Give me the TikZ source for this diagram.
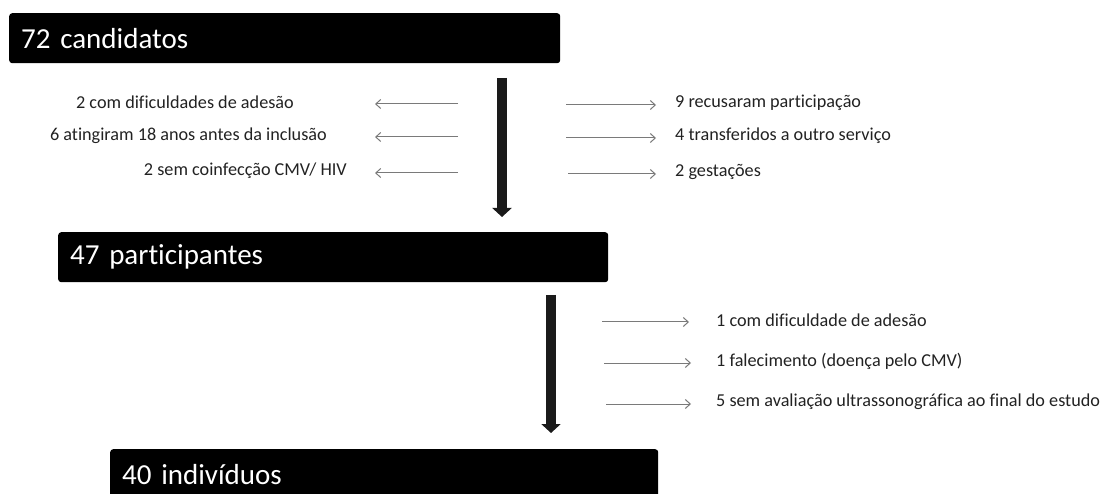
\documentclass[tikz,border=0pt]{standalone}
\usepackage{fontspec}
\setmainfont{Carlito}[Ligatures={NoCommon}]
\usetikzlibrary{arrows.meta}
\definecolor{barc}{HTML}{1A1A1A}
\definecolor{thinc}{HTML}{7A7A7A}
\definecolor{txtc}{HTML}{222222}
\tikzset{
 stagebox/.style={fill=black, rounded corners=3pt, draw=none, anchor=north west,
   minimum height=50pt, inner xsep=12pt, inner ysep=0pt, text=white,
   font=\fontsize{29}{32}\selectfont, align=left},
 bigarrow/.style={draw=barc, line width=10pt, -{Triangle[width=19pt,length=9pt]}},
 thinarrow/.style={draw=thinc, line width=1pt, -{Straight Barb[length=5pt,width=9pt]}},
 note/.style={font=\fontsize{18.2}{20}\selectfont, inner sep=0pt, text=txtc}
}
\begin{document}
\begin{tikzpicture}[x=1pt,y=-1pt]
\useasboundingbox (0,0) rectangle (1103,494);
% stages
\node[stagebox, text width=527pt] (b1) at (9,13) {72 candidatos};
\node[stagebox, text width=526pt] (b2) at (58,232) {47 participantes};
\node[stagebox, text width=524pt] (b3) at (110,449) {40 indivíduos};
% thick arrows
\coordinate (a1s) at (502,78);
\coordinate (a1e) at (502,217);
\coordinate (a2s) at (551,295);
\coordinate (a2e) at (551,433);
\draw[bigarrow] (a1s) -- (a1e);
\draw[bigarrow] (a2s) -- (a2e);
% left exclusions
\node[note, anchor=east] (l1) at (294,102) {2 com dificuldades de adesão};
\node[note, anchor=east] (l2) at (327,136) {6 atingiram 18 anos antes da inclusão};
\node[note, anchor=east] (l3) at (347,171) {2 sem coinfecção CMV/ HIV};
\coordinate (l1s) at (458,104); \coordinate (l1e) at (375,104);
\coordinate (l2s) at (458,137); \coordinate (l2e) at (375,137);
\coordinate (l3s) at (458,173); \coordinate (l3e) at (375,173);
\draw[thinarrow] (l1s) -- (l1e);
\draw[thinarrow] (l2s) -- (l2e);
\draw[thinarrow] (l3s) -- (l3e);
% right exclusions
\node[note, anchor=west] (r1) at (675,103) {9 recusaram participação};
\node[note, anchor=west] (r2) at (675,136) {4 transferidos a outro serviço};
\node[note, anchor=west] (r3) at (675,172) {2 gestações};
\coordinate (r1s) at (566,105); \coordinate (r1e) at (656,105);
\coordinate (r2s) at (566,138); \coordinate (r2e) at (656,138);
\coordinate (r3s) at (568,174); \coordinate (r3e) at (656,174);
\draw[thinarrow] (r1s) -- (r1e);
\draw[thinarrow] (r2s) -- (r2e);
\draw[thinarrow] (r3s) -- (r3e);
% lower exclusions
\node[note, anchor=west] (s1) at (716,320) {1 com dificuldade de adesão};
\node[note, anchor=west] (s2) at (716,361) {1 falecimento (doença pelo CMV)};
\node[note, anchor=west] (s3) at (716,402) {5 sem avaliação ultrassonográfica ao final do estudo};
\coordinate (s1s) at (602,322); \coordinate (s1e) at (689,322);
\coordinate (s2s) at (604,363); \coordinate (s2e) at (691,363);
\coordinate (s3s) at (606,404); \coordinate (s3e) at (691,404);
\draw[thinarrow] (s1s) -- (s1e);
\draw[thinarrow] (s2s) -- (s2e);
\draw[thinarrow] (s3s) -- (s3e);
\end{tikzpicture}
\end{document}
